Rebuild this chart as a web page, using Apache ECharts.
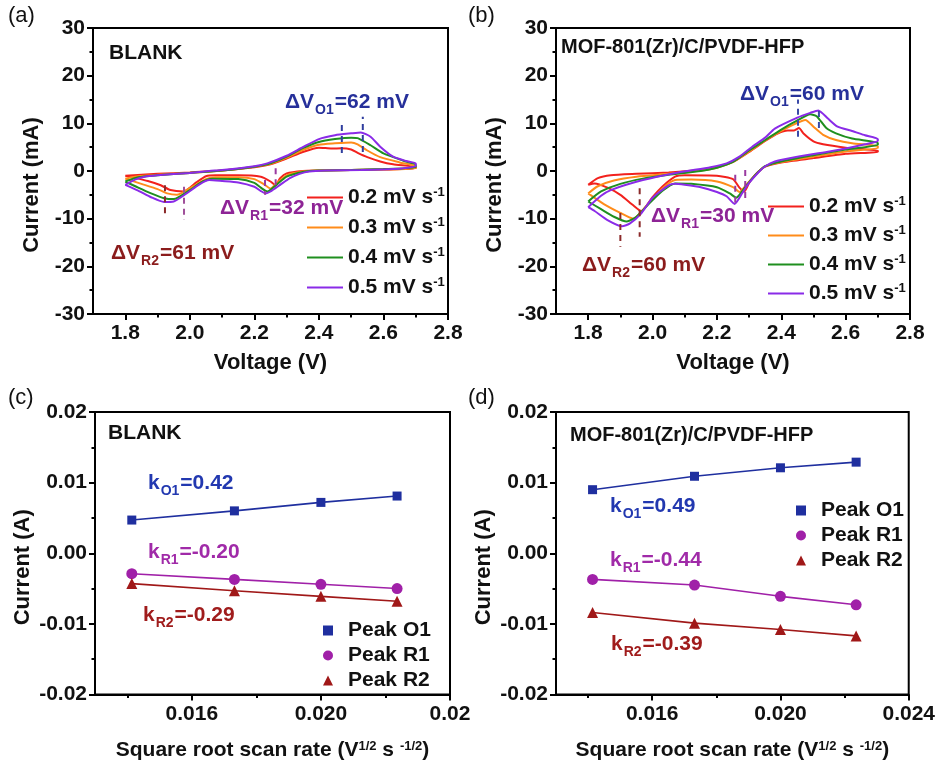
<!DOCTYPE html>
<html><head><meta charset="utf-8">
<script src="https://cdn.jsdelivr.net/npm/echarts@6/dist/echarts.min.js"></script>
<style>html,body{margin:0;padding:0;background:#fff}#c{width:938px;height:762px}</style>
</head><body><div id="c"></div>
<script>
// ---------------- DATA ----------------
const scanRates = ['0.2 mV s-1', '0.3 mV s-1', '0.4 mV s-1', '0.5 mV s-1'];

// (a) BLANK cyclic voltammograms [V, mA]
const blankCV02 = [[1.8,-1.0],[1.85,-0.8],[1.9,-0.6],[2.0,-0.3],[2.1,0.1],[2.2,0.8],[2.25,1.4],[2.3,2.6],[2.35,4.0],[2.4,4.9],[2.44,4.7],[2.47,4.75],[2.5,4.5],[2.52,3.8],[2.55,2.9],[2.59,2.0],[2.63,1.4],[2.7,0.8],
  [2.7,0.5],[2.6,0.3],[2.5,0.2],[2.4,0.1],[2.35,0.0],[2.3,-0.5],[2.28,-1.5],[2.265,-3.0],[2.25,-2.2],[2.22,-1.2],[2.15,-0.9],[2.08,-0.9],[2.05,-1.1],[2.02,-2.4],[1.98,-4.3],[1.94,-4.0],[1.91,-3.0],[1.87,-2.1],[1.82,-1.3],[1.8,-1.0]];
const blankCV03 = [[1.8,-1.6],[1.84,-1.1],[1.9,-0.8],[2.0,-0.4],[2.1,0.1],[2.2,0.9],[2.25,1.5],[2.3,2.8],[2.35,4.4],[2.4,5.5],[2.45,5.8],[2.5,6.0],[2.52,5.6],[2.55,4.3],[2.59,2.9],[2.65,1.8],[2.7,1.0],
  [2.7,0.6],[2.6,0.3],[2.5,0.2],[2.4,0.1],[2.35,-0.1],[2.3,-0.9],[2.27,-2.5],[2.25,-3.7],[2.23,-2.8],[2.2,-1.7],[2.15,-1.3],[2.08,-1.3],[2.05,-1.7],[2.0,-3.6],[1.96,-5.0],[1.93,-4.7],[1.9,-3.8],[1.85,-2.7],[1.8,-1.6]];
const blankCV04 = [[1.8,-2.2],[1.84,-1.3],[1.9,-0.9],[2.0,-0.4],[2.1,0.1],[2.2,0.9],[2.25,1.6],[2.3,3.0],[2.35,4.8],[2.4,6.1],[2.45,6.7],[2.5,7.0],[2.52,6.9],[2.56,5.4],[2.6,3.7],[2.66,2.2],[2.7,1.3],
  [2.7,0.8],[2.6,0.4],[2.5,0.2],[2.4,0.1],[2.35,-0.2],[2.3,-1.2],[2.27,-2.8],[2.24,-4.3],[2.22,-3.5],[2.2,-2.5],[2.15,-1.7],[2.07,-1.6],[2.04,-2.2],[2.0,-4.0],[1.95,-5.9],[1.92,-5.7],[1.88,-4.7],[1.84,-3.5],[1.8,-2.2]];
const blankCV05 = [[1.8,-2.9],[1.83,-1.8],[1.86,-1.2],[1.9,-0.9],[2.0,-0.4],[2.06,0.0],[2.1,0.2],[2.2,1.0],[2.24,1.6],[2.3,3.2],[2.35,5.0],[2.4,6.7],[2.45,7.5],[2.5,7.9],[2.53,8.1],[2.56,7.2],[2.59,5.1],[2.63,3.0],[2.67,2.1],[2.7,1.6],
  [2.7,1.0],[2.63,0.4],[2.53,0.2],[2.42,0.1],[2.37,-0.1],[2.34,-0.6],[2.31,-1.5],[2.28,-2.9],[2.25,-4.3],[2.235,-4.7],[2.22,-4.2],[2.2,-3.3],[2.15,-2.4],[2.1,-2.1],[2.06,-1.9],[2.03,-2.8],[1.99,-4.7],[1.95,-6.4],[1.92,-6.5],[1.88,-5.5],[1.84,-4.1],[1.8,-2.9]];

// (b) MOF-801(Zr)/C/PVDF-HFP cyclic voltammograms [V, mA]
const mofCV02 = [[1.8,-2.9],[1.83,-1.5],[1.87,-0.9],[1.95,-0.6],[2.05,-0.3],[2.15,0.2],[2.2,0.8],[2.25,1.9],[2.3,4.0],[2.35,6.3],[2.39,7.9],[2.42,8.5],[2.44,8.5],[2.455,9.0],[2.47,7.8],[2.5,6.2],[2.53,5.6],[2.6,4.9],[2.65,4.6],[2.7,4.3],
  [2.7,4.0],[2.6,3.6],[2.5,2.7],[2.4,1.8],[2.35,0.9],[2.32,-0.7],[2.3,-2.5],[2.285,-4.3],[2.27,-3.5],[2.25,-1.7],[2.2,-1.0],[2.1,-0.9],[2.07,-1.2],[2.03,-3.3],[2.0,-5.5],[1.965,-8.4],[1.94,-7.2],[1.9,-5.0],[1.86,-3.5],[1.82,-2.6],[1.8,-2.9]];
const mofCV03 = [[1.8,-4.7],[1.83,-3.2],[1.88,-2.0],[1.95,-1.2],[2.05,-0.6],[2.15,0.1],[2.2,0.7],[2.25,1.9],[2.3,4.1],[2.35,6.4],[2.4,8.4],[2.44,9.8],[2.475,10.7],[2.5,9.3],[2.53,7.6],[2.57,6.5],[2.62,5.8],[2.7,5.2],
  [2.7,4.8],[2.6,4.1],[2.5,3.0],[2.4,1.9],[2.35,1.0],[2.32,-0.8],[2.29,-3.0],[2.27,-4.4],[2.25,-3.4],[2.2,-2.2],[2.12,-1.8],[2.07,-1.9],[2.03,-3.7],[1.99,-6.6],[1.94,-10.0],[1.9,-8.8],[1.85,-7.0],[1.8,-4.7]];
const mofCV04 = [[1.8,-6.4],[1.84,-4.3],[1.9,-2.7],[1.97,-1.6],[2.05,-0.8],[2.15,0.0],[2.2,0.7],[2.25,1.9],[2.3,4.3],[2.35,6.5],[2.4,8.7],[2.45,10.6],[2.49,11.9],[2.51,11.5],[2.54,9.0],[2.57,7.9],[2.62,6.8],[2.7,5.9],
  [2.7,5.5],[2.6,4.5],[2.5,3.3],[2.4,2.0],[2.35,1.0],[2.32,-0.8],[2.29,-3.2],[2.26,-5.6],[2.24,-4.7],[2.2,-3.4],[2.12,-2.7],[2.07,-2.6],[2.03,-4.2],[1.99,-6.8],[1.95,-9.6],[1.92,-10.6],[1.88,-9.6],[1.84,-8.0],[1.8,-6.4]];
const mofCV05 = [[1.8,-7.6],[1.84,-5.2],[1.87,-4.0],[1.97,-1.9],[2.08,-0.3],[2.18,0.8],[2.23,1.6],[2.27,3.0],[2.31,5.1],[2.35,7.0],[2.38,8.9],[2.45,11.2],[2.49,12.2],[2.515,12.7],[2.545,11.0],[2.575,9.3],[2.62,8.4],[2.66,7.5],[2.7,6.7],
  [2.7,6.3],[2.66,5.6],[2.6,4.7],[2.55,4.1],[2.45,3.0],[2.38,2.0],[2.35,1.0],[2.33,-0.2],[2.3,-2.5],[2.28,-4.5],[2.255,-6.9],[2.23,-5.3],[2.2,-4.4],[2.15,-3.4],[2.1,-2.9],[2.07,-2.7],[2.05,-3.0],[2.0,-5.6],[1.965,-8.9],[1.93,-11.0],[1.905,-11.6],[1.86,-10.3],[1.82,-8.4],[1.8,-7.6]];

// peak-position markers (dashed) [V, from mA, to mA]
const blankMarkO1 = [[2.471, 3.8, 10.7], [2.536, 4.0, 11.4]];
const blankMarkR1 = [[2.233, -1.9, -5.0], [2.266, 0.6, -3.6]];
const blankMarkR2 = [[1.923, -3.0, -9.6], [1.982, -3.3, -10.3]];
const mofMarkO1 = [[2.452, 7.2, 15.0], [2.517, 9.0, 13.0]];
const mofMarkR1 = [[2.257, -0.8, -7.5], [2.288, 0.2, -6.1]];
const mofMarkR2 = [[1.90, -8.8, -15.9], [1.96, -3.6, -13.8]];

// (c)/(d) peak currents vs square root of scan rate
const peakNames = ['Peak O1', 'Peak R1', 'Peak R2'];
const sqrtRate = [0.01414, 0.01732, 0.02000, 0.02236];
const blankO1 = [0.0047, 0.0060, 0.0072, 0.0081];
const blankR1 = [-0.0029, -0.0037, -0.0044, -0.0050];
const blankR2 = [-0.0043, -0.0053, -0.0061, -0.0068];
const mofO1 = [0.0090, 0.0109, 0.0121, 0.0129];
const mofR1 = [-0.0037, -0.0045, -0.0061, -0.0073];
const mofR2 = [-0.0084, -0.0099, -0.0108, -0.0117];

// axis ticks
const cvXLabels = [1.8, 2.0, 2.2, 2.4, 2.6, 2.8];
const cvXMinor = [1.9, 2.1, 2.3, 2.5, 2.7];
const rateXLabels = [0.016, 0.020, 0.024];
const rateXMinor = [0.014, 0.018, 0.022];

// ---------------- STYLE / BUILD ----------------
const FONT = '"Liberation Sans", Arial, Helvetica, sans-serif';
const cvColors = ['#f2211d', '#ff8c1a', '#1f8f1f', '#8a2be8'];
const peakColors = ['#1f2f9f', '#a020a8', '#a01818'];
const peakSymbols = ['rect', 'circle', 'triangle'];
const cO1 = '#26309a', cR1 = '#8e2496', cR2 = '#8b1c1c';

const grids = [
  {left: 93, top: 28, width: 355, height: 286},
  {left: 556, top: 28, width: 354, height: 286},
  {left: 95, top: 412, width: 355, height: 283},
  {left: 556, top: 412, width: 355, height: 283}
].map(g => Object.assign({show: true, borderColor: '#000', borderWidth: 2, backgroundColor: 'transparent'}, g));

const tickLabel = {fontSize: 21, fontWeight: 'bold', color: '#111', fontFamily: FONT};
const nameStyleBase = {fontSize: 22, fontWeight: 'bold', color: '#111', fontFamily: FONT};

function xAxes(gi, min, max, labels, minor, fmt, name, gap, rich) {
  const main = {
    type: 'value', gridIndex: gi, min, max, position: 'bottom',
    axisLine: {show: true, onZero: false, lineStyle: {color: '#000', width: 2}},
    axisTick: {show: true, customValues: labels, length: 6, lineStyle: {color: '#000', width: 2}},
    axisLabel: Object.assign({customValues: labels, formatter: fmt, margin: 9}, tickLabel),
    splitLine: {show: false},
    name, nameLocation: 'middle', nameGap: gap,
    nameTextStyle: Object.assign({}, nameStyleBase, rich ? {rich} : {})
  };
  const mn = {
    type: 'value', gridIndex: gi, min, max, position: 'bottom',
    axisLine: {show: false, onZero: false},
    axisTick: {show: true, customValues: minor, length: 3.5, lineStyle: {color: '#000', width: 2}},
    axisLabel: {show: false}, splitLine: {show: false}
  };
  return [main, mn];
}
function yAxis(gi, min, max, interval, fmt, name, gap) {
  return {
    type: 'value', gridIndex: gi, min, max, interval,
    axisLine: {show: true, onZero: false, lineStyle: {color: '#000', width: 2}},
    axisTick: {show: true, length: 6, lineStyle: {color: '#000', width: 2}},
    minorTick: {show: true, splitNumber: 2, length: 3.5, lineStyle: {color: '#000', width: 2}},
    axisLabel: Object.assign({formatter: fmt, margin: 8}, tickLabel),
    splitLine: {show: false}, minorSplitLine: {show: false},
    name, nameLocation: 'middle', nameGap: gap,
    nameTextStyle: Object.assign({padding: [0, 28, 0, 0]}, nameStyleBase)
  };
}

const supRich = {
  t: {fontSize: 21, fontWeight: 'bold', color: '#111', fontFamily: FONT},
  sup: {fontSize: 13, fontWeight: 'bold', color: '#111', fontFamily: FONT, verticalAlign: 'top', padding: [0, 0, 9, 0]}
};
const rateName = '{t|Square root scan rate (V}{sup|1/2}{t| s }{sup|-1/2}{t|)}';

const xAxisList = [
  ...xAxes(0, 1.7, 2.8, cvXLabels, cvXMinor, v => v.toFixed(1), 'Voltage (V)', 38),
  ...xAxes(1, 1.7, 2.8, cvXLabels, cvXMinor, v => v.toFixed(1), 'Voltage (V)', 38),
  ...xAxes(2, 0.013, 0.024, rateXLabels, rateXMinor, v => (Math.abs(v - 0.024) < 1e-9 ? '0.02' : v.toFixed(3)), rateName, 45, supRich),
  ...xAxes(3, 0.013, 0.024, rateXLabels, rateXMinor, v => v.toFixed(3), rateName, 45, supRich)
];
const yAxisList = [
  yAxis(0, -30, 30, 10, v => String(v), 'Current (mA)', 50),
  yAxis(1, -30, 30, 10, v => String(v), 'Current (mA)', 50),
  yAxis(2, -0.02, 0.02, 0.01, v => v.toFixed(2), 'Current (A)', 61),
  yAxis(3, -0.02, 0.02, 0.01, v => v.toFixed(2), 'Current (A)', 61)
];

const series = [];
const cvSets = [[blankCV02, blankCV03, blankCV04, blankCV05], [mofCV02, mofCV03, mofCV04, mofCV05]];
cvSets.forEach((set, p) => {
  set.forEach((d, i) => {
    series.push({
      type: 'line', name: scanRates[i], xAxisIndex: p * 2, yAxisIndex: p, data: d,
      symbol: 'none', showSymbol: false, smooth: 0.2, z: 3 + i,
      lineStyle: {width: 2, color: cvColors[i]}, itemStyle: {color: cvColors[i]}
    });
  });
});
function dashes(marks, p, colors) {
  marks.forEach((m, i) => {
    series.push({
      type: 'line', xAxisIndex: p * 2, yAxisIndex: p, data: [[m[0], m[1]], [m[0], m[2]]],
      symbol: 'none', silent: true, z: 8,
      lineStyle: {type: [6, 5], width: 2, color: colors[i]}
    });
  });
}
dashes(blankMarkO1, 0, ['#2f3d9e', '#2f3d9e']);
dashes(blankMarkR1, 0, ['#9a3aa0', '#9a3aa0']);
dashes(blankMarkR2, 0, ['#8b2a2a', '#a0509a']);
dashes(mofMarkO1, 1, ['#3a4aa8', '#3a4aa8']);
dashes(mofMarkR1, 1, ['#9a3aa0', '#9a3aa0']);
dashes(mofMarkR2, 1, ['#8b2a2a', '#8b2a2a']);

const peakSets = [[blankO1, blankR1, blankR2], [mofO1, mofR1, mofR2]];
peakSets.forEach((set, p) => {
  set.forEach((vals, i) => {
    series.push({
      type: 'line', name: peakNames[i], xAxisIndex: 4 + p * 2, yAxisIndex: 2 + p,
      data: sqrtRate.map((x, k) => [x, vals[k]]),
      symbol: peakSymbols[i], symbolSize: i === 0 ? 9 : 11, showSymbol: true,
      lineStyle: {width: 1.6, color: peakColors[i]}, itemStyle: {color: peakColors[i]}
    });
  });
});

const legendRich = {
  t: {fontSize: 21, fontWeight: 'bold', color: '#111', fontFamily: FONT},
  sup: {fontSize: 13, fontWeight: 'bold', color: '#111', fontFamily: FONT, verticalAlign: 'top', padding: [0, 0, 10, 0]}
};
function cvLegend(left, top, gap) {
  return {
    data: scanRates, orient: 'vertical', left, top, itemWidth: 36, itemHeight: 14, itemGap: gap,
    selectedMode: false, icon: 'path://M0,6H36V8H0Z',
    formatter: n => '{t|' + n.replace(' s-1', ' s') + '}{sup|-1}',
    textStyle: {rich: legendRich, fontFamily: FONT}
  };
}
function peakLegend(left, top) {
  return {
    data: peakNames.map((n, i) => ({name: n, icon: peakSymbols[i]})),
    orient: 'vertical', left, top, itemWidth: 10, itemHeight: 10, itemGap: 4, selectedMode: false,
    textStyle: {fontSize: 21, fontWeight: 'bold', color: '#111', fontFamily: FONT, padding: [0, 0, 0, 10]}
  };
}

function annot(left, top, parts, color) {
  let txt = '';
  parts.forEach((s, i) => { txt += (i % 2 ? '{s|' : '{m|') + s + '}'; });
  return {
    type: 'text', left, top, z: 100,
    style: {
      text: txt,
      rich: {
        m: {fontSize: 21, fontWeight: 'bold', fill: color, fontFamily: FONT, lineHeight: 24, verticalAlign: 'top'},
        s: {fontSize: 14, fontWeight: 'bold', fill: color, fontFamily: FONT, verticalAlign: 'top', padding: [11, 1, 0, 1]}
      }
    }
  };
}
function plain(left, top, text, size, weight) {
  return {type: 'text', left, top, z: 100,
    style: {text, fill: '#111', font: weight + ' ' + size + 'px ' + FONT}};
}

const graphic = [
  plain(8, 5, '(a)', 22, 'normal'),
  plain(468, 5, '(b)', 22, 'normal'),
  plain(8, 387, '(c)', 22, 'normal'),
  plain(468, 387, '(d)', 22, 'normal'),
  plain(109, 43, 'BLANK', 21, 'bold'),
  plain(561, 37, 'MOF-801(Zr)/C/PVDF-HFP', 20, 'bold'),
  plain(108, 423, 'BLANK', 21, 'bold'),
  plain(570, 425, 'MOF-801(Zr)/C/PVDF-HFP', 20, 'bold'),
  annot(285, 92, ['ΔV', 'O1', '=62 mV'], cO1),
  annot(220, 198, ['ΔV', 'R1', '=32 mV'], cR1),
  annot(111, 243, ['ΔV', 'R2', '=61 mV'], cR2),
  annot(740, 84, ['ΔV', 'O1', '=60 mV'], cO1),
  annot(651, 206, ['ΔV', 'R1', '=30 mV'], cR1),
  annot(582, 255, ['ΔV', 'R2', '=60 mV'], cR2),
  annot(148, 473, ['k', 'O1', '=0.42'], '#2238b0'),
  annot(148, 542, ['k', 'R1', '=-0.20'], '#a02aa8'),
  annot(143, 605, ['k', 'R2', '=-0.29'], '#a01c1c'),
  annot(610, 496, ['k', 'O1', '=0.49'], '#2238b0'),
  annot(610, 550, ['k', 'R1', '=-0.44'], '#a02aa8'),
  annot(611, 634, ['k', 'R2', '=-0.39'], '#a01c1c')
];

const chart = echarts.init(document.getElementById('c'), null, {renderer: 'canvas'});
chart.setOption({
  animation: false,
  backgroundColor: '#fff',
  textStyle: {fontFamily: FONT},
  grid: grids,
  xAxis: xAxisList,
  yAxis: yAxisList,
  legend: [cvLegend(302, 181, 8), cvLegend(763, 190, 7), peakLegend(318, 615), peakLegend(791, 495)],
  series,
  graphic
});
</script></body></html>
